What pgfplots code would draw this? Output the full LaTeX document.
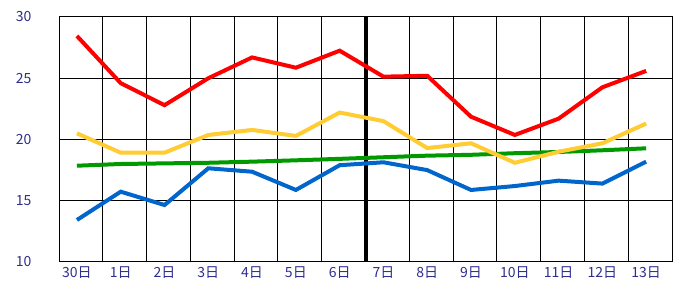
\documentclass[border=0pt]{standalone}
\usepackage{pgfplots}
\pgfplotsset{compat=1.18}
\usepackage{fontspec}
\setmainfont{Noto Sans CJK JP}
\definecolor{lab}{HTML}{2E2E8C}
\definecolor{cred}{HTML}{FF0000}
\definecolor{cyel}{HTML}{FFCC33}
\definecolor{cgrn}{HTML}{009900}
\definecolor{cblu}{HTML}{0066CC}
\begin{document}
\begin{tikzpicture}[x=1pt,y=1pt]
\path (0,0) rectangle (673,288);
\begin{axis}[
  at={(59pt,26pt)}, anchor=south west,
  scale only axis, width=613pt, height=245pt,
  xmin=0, xmax=14, ymin=10, ymax=30,
  ytick={10,15,20,25,30},
  xtick={0.41,1.41,2.41,3.41,4.41,5.41,6.41,7.41,8.41,9.41,10.41,11.41,12.41,13.41},
  xticklabels={30日,1日,2日,3日,4日,5日,6日,7日,8日,9日,10日,11日,12日,13日},
  minor xtick={1,2,3,4,5,6,8,9,10,11,12,13},
  xminorgrids, ymajorgrids,
  grid style={black, line width=1pt},
  minor grid style={black, line width=1pt},
  axis line style={black, line width=1pt},
  major tick length=0pt, minor tick length=0pt,
  tick label style={font=\fontsize{14}{14}\selectfont, text=lab},
  /pgf/number format/assume math mode=true,
  yticklabel style={anchor=east, xshift=-24pt},
  xticklabel style={yshift=-1pt},
  extra x ticks={7}, extra x tick labels={},
  extra x tick style={grid=major, major grid style={black, line width=4pt}},
  clip=false,
]
\addplot[cgrn, line width=4pt] coordinates {
(0.41,17.86) (1.41,18.0) (2.41,18.05) (3.41,18.1) (4.41,18.19) (5.41,18.3) (6.41,18.42)
(7.41,18.55) (8.41,18.68) (9.41,18.75) (10.41,18.88) (11.41,18.98) (12.41,19.12) (13.41,19.28)};
\addplot[cblu, line width=4pt] coordinates {
(0.41,13.43) (1.41,15.74) (2.41,14.65) (3.41,17.65) (4.41,17.37) (5.41,15.88) (6.41,17.9)
(7.41,18.14) (8.41,17.5) (9.41,15.88) (10.41,16.2) (11.41,16.64) (12.41,16.4) (13.41,18.19)};
\addplot[cyel, line width=4pt] coordinates {
(0.41,20.5) (1.41,18.92) (2.41,18.92) (3.41,20.37) (4.41,20.78) (5.41,20.29) (6.41,22.2)
(7.41,21.5) (8.41,19.3) (9.41,19.69) (10.41,18.1) (11.41,19.0) (12.41,19.69) (13.41,21.3)};
\addplot[cred, line width=4pt] coordinates {
(0.41,28.45) (1.41,24.6) (2.41,22.8) (3.41,25.0) (4.41,26.7) (5.41,25.86) (6.41,27.25)
(7.41,25.13) (8.41,25.2) (9.41,21.86) (10.41,20.37) (11.41,21.7) (12.41,24.26) (13.41,25.6)};
\end{axis}
\end{tikzpicture}
\end{document}
